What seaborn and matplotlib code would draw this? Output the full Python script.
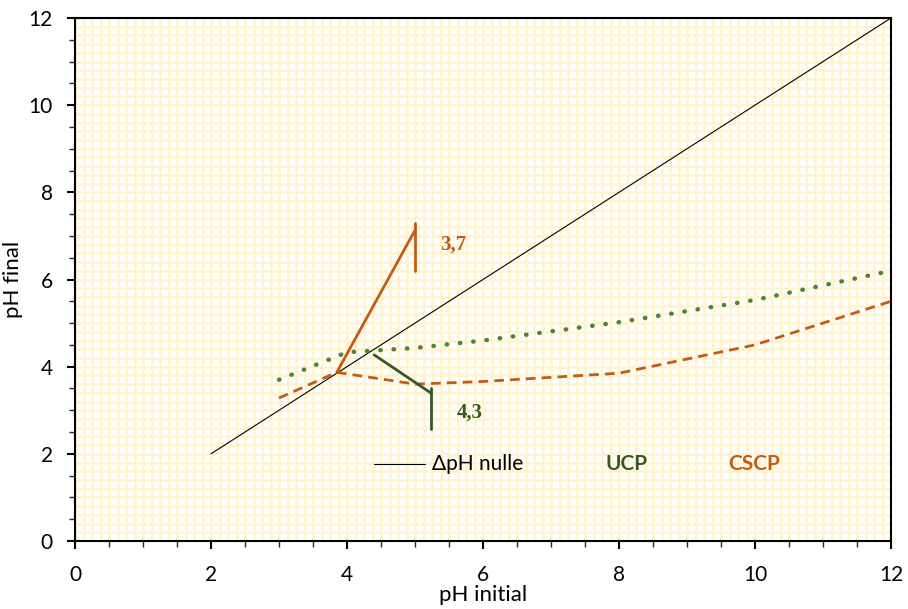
import numpy as np
import pandas as pd
import matplotlib
matplotlib.use("Agg")
import matplotlib.pyplot as plt
import seaborn as sns

# --- data ---
ucp_x = [3, 4, 5, 6, 8, 10, 12]
ucp_y = [3.7, 4.33, 4.43, 4.6, 5.02, 5.53, 6.2]
cscp_x = [3, 3.85, 5, 6, 8, 10, 12]
cscp_y = [3.28, 3.87, 3.6, 3.66, 3.85, 4.5, 5.5]
zero_x = [2, 12]
zero_y = [2, 12]
pzc_cscp_x = [3.85, 5.0]
pzc_cscp_y = [3.87, 7.13]
pzc_cscp_bar = [6.2, 7.3]
pzc_ucp_x = [4.4, 5.24]
pzc_ucp_y = [4.27, 3.39]
pzc_ucp_bar = [2.56, 3.5]
labels_pzc = ["3,7", "4,3"]
xticks = [0, 2, 4, 6, 8, 10, 12]
yticks = [0, 2, 4, 6, 8, 10, 12]

ORANGE = "#C55A11"
DKGREEN = "#385723"
GREEN = "#538135"
GRID = "#FFF2CC"

sns.set_style("white")
plt.rcParams['font.family'] = ['Lato', 'DejaVu Sans']
plt.rcParams['text.color'] = 'black'
plt.rcParams['axes.labelcolor'] = 'black'

fig = plt.figure(figsize=(9.08, 6.09), dpi=100)
ax = fig.add_axes([75/908, 1-541/609, (891-75)/908, (541-18)/609])

# background pattern grid
for gx in np.arange(0, 12.001, 0.125):
    ax.axvline(gx, color=GRID, lw=1.8, zorder=0)
for gy in np.arange(0, 12.001, 0.2):
    ax.axhline(gy, color=GRID, lw=1.8, zorder=0)

kw = dict(ax=ax, estimator=None, sort=False, zorder=3)
sns.lineplot(x=zero_x, y=zero_y, color="black", lw=0.8, **kw)
sns.lineplot(x=ucp_x, y=ucp_y, color=GREEN, lw=3.2,
             linestyle=(0, (0.1, 2.9)), dash_capstyle="round", **kw)
sns.lineplot(x=cscp_x, y=cscp_y, color=ORANGE, lw=2,
             linestyle=(0, (3.5, 2.2)), **kw)
sns.lineplot(x=pzc_cscp_x, y=pzc_cscp_y, color=ORANGE, lw=2, **kw)
sns.lineplot(x=[pzc_cscp_x[1]] * 2, y=pzc_cscp_bar, color=ORANGE, lw=2, **kw)
sns.lineplot(x=pzc_ucp_x, y=pzc_ucp_y, color=DKGREEN, lw=2, **kw)
sns.lineplot(x=[pzc_ucp_x[1]] * 2, y=pzc_ucp_bar, color=DKGREEN, lw=2, **kw)

ax.text(5.37, 6.8, labels_pzc[0], color=ORANGE, fontsize=15, fontweight="bold",
        family="Liberation Serif", va="center", ha="left")
ax.text(5.62, 2.95, labels_pzc[1], color=DKGREEN, fontsize=15, fontweight="bold",
        family="Liberation Serif", va="center", ha="left")

# legend-like labels
ax.plot([4.4, 5.15], [1.77, 1.77], color="black", lw=0.8, zorder=3)
ax.text(5.25, 1.77, "ΔpH nulle", fontsize=15, va="center", ha="left", color="black")
ax.text(7.8, 1.77, "UCP", fontsize=15, va="center", ha="left", color=DKGREEN, fontweight="bold")
ax.text(9.6, 1.77, "CSCP", fontsize=15, va="center", ha="left", color=ORANGE, fontweight="bold")

ax.set_xlim(0, 12)
ax.set_ylim(0, 12)
ax.set_xticks(xticks)
ax.set_yticks(yticks)
ax.set_xticks(np.arange(0, 12.01, 0.5), minor=True)
ax.set_yticks(np.arange(0, 12.01, 0.5), minor=True)
ax.tick_params(axis="both", which="major", direction="out", length=6, width=1.5,
               labelsize=15, colors="black", bottom=True, left=True, pad=10)
ax.tick_params(axis="both", which="minor", direction="out", length=4, width=1,
               bottom=True, left=True)
ax.tick_params(axis="x", which="major", pad=11)
for s in ax.spines.values():
    s.set_visible(True)
    s.set_color("black")
    s.set_linewidth(1.5)
ax.set_xlabel("pH initial", fontsize=16, labelpad=0)
ax.set_ylabel("pH final", fontsize=16, labelpad=4)

fig.savefig("out.png", dpi=100, facecolor="white")
